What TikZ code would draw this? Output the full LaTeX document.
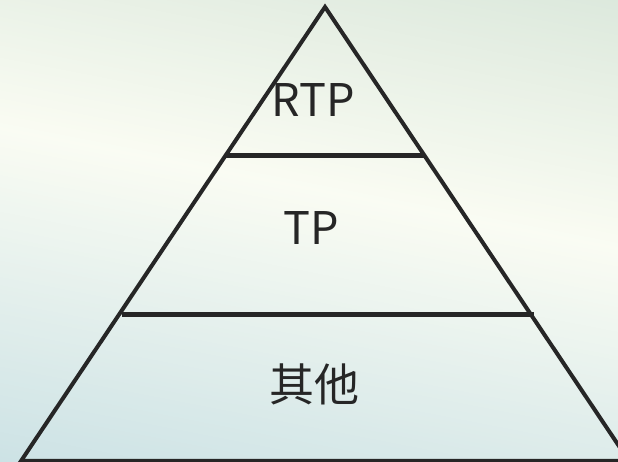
\documentclass[tikz,border=0pt]{standalone}
\usepackage{fontspec}
\newfontfamily\cjk{Noto Sans CJK SC}
\definecolor{bgtop}{RGB}{210,226,213}
\definecolor{bgmid}{RGB}{250,252,243}
\definecolor{bgbot}{RGB}{204,226,229}
\definecolor{ink}{RGB}{38,38,38}
\tikzset{
  side/.style={draw=ink, line width=4pt, line join=miter},
  divider/.style={draw=ink, line width=5.5pt},
  label/.style={font=\cjk\fontsize{45}{54}\selectfont, text=ink, inner sep=0pt, anchor=center}
}
\begin{document}
\begin{tikzpicture}[x=1pt,y=1pt]
\useasboundingbox (0,0) rectangle (618,462);
\begin{scope}
  \clip (0,0) rectangle (618,462);
  \begin{scope}[shift={(309,272)}, rotate=-11]
    \foreach \t in {-340,-336,...,340} {
      \pgfmathsetmacro{\p}{\t>0 ? 100*(1-min(\t,330)/330) : 100*(1+max(\t,-330)/330)}
      \ifdim\t pt>0pt
        \fill[bgmid!\p!bgtop] (-800,\t-0.5) rectangle (800,\t+4.5);
      \else
        \fill[bgmid!\p!bgbot] (-800,\t-0.5) rectangle (800,\t+4.5);
      \fi
    }
  \end{scope}
\end{scope}
% key points
\coordinate (apex) at (325,455);
\coordinate (bl) at (21,1);
\coordinate (br) at (629,1);
\coordinate (d1l) at (226,306.5);
\coordinate (d1r) at (424,306.5);
\coordinate (d2l) at (122,147.7);
\coordinate (d2r) at (534,147.7);
% pyramid
\draw[side] (bl) -- (apex) -- (br) -- cycle;
\draw[divider] (d1l) -- (d1r);
\draw[divider] (d2l) -- (d2r);
% labels
\node[label] (rtp) at (313,362) {RTP};
\node[label] (tp) at (311,234) {TP};
\node[label] (other) at (314,78) {其他};
\end{tikzpicture}
\end{document}
